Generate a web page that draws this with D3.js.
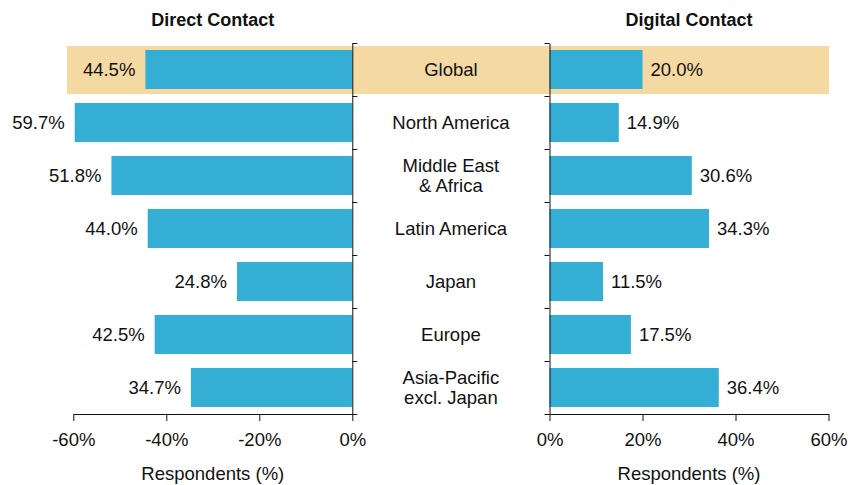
<!doctype html>
<html>
<head>
<meta charset="utf-8">
<style>
	body { margin: 0; background: #fff; }
	svg text { font-family: "Liberation Sans", Arial, Helvetica, sans-serif; fill: #111; }
</style>
</head>
<body>
	<div class="chart"></div>
	<script src="https://d3js.org/d3.v7.min.js"></script>
	<script>
		// данные
		let regions = ["Global", "North America", "Middle East\n& Africa", "Latin America",
			"Japan", "Europe", "Asia-Pacific\nexcl. Japan"];
		let direct = [44.5, 59.7, 51.8, 44.0, 24.8, 42.5, 34.7];
		let digital = [20.0, 14.9, 30.6, 34.3, 11.5, 17.5, 36.4];
		let leftTicks = [-60, -40, -20, 0];
		let rightTicks = [0, 20, 40, 60];
		let highlight = "Global";

		let width = 862,
			height = 485,
			yTop = 43,
			yBottom = 414,
			fontSize = 18.5,
			barColor = "#34aed4",
			hiColor = "#f5d9a3";

		let svg = d3.select(".chart")
			.append("svg")
			.attr("width", width)
			.attr("height", height);

		let y = d3.scaleBand()
			.domain(regions)
			.range([yTop, yBottom])
			.paddingInner(0.264)
			.paddingOuter(0.132);

		let xL = d3.scaleLinear().domain([-60, 0]).range([73.3, 352.3]);
		let xR = d3.scaleLinear().domain([0, 60]).range([549.5, 828.5]);

		// подсветка строки Global
		svg.append("rect")
			.attr("x", 67)
			.attr("width", 829 - 67)
			.attr("y", y(highlight) - 4)
			.attr("height", y.bandwidth() + 9)
			.attr("fill", hiColor);

		let rows = regions.map((r, i) => ({ region: r, direct: direct[i], digital: digital[i] }));

		// левые столбцы
		svg.append("g").selectAll("rect")
			.data(rows)
			.join("rect")
			.attr("x", d => xL(-d.direct))
			.attr("width", d => xL(0) - xL(-d.direct))
			.attr("y", d => y(d.region))
			.attr("height", y.bandwidth())
			.attr("fill", barColor);

		// правые столбцы
		svg.append("g").selectAll("rect")
			.data(rows)
			.join("rect")
			.attr("x", xR(0))
			.attr("width", d => xR(d.digital) - xR(0))
			.attr("y", d => y(d.region))
			.attr("height", y.bandwidth())
			.attr("fill", barColor);

		// подписи значений
		svg.append("g").selectAll("text")
			.data(rows)
			.join("text")
			.attr("x", d => xL(-d.direct) - 10)
			.attr("y", d => y(d.region) + y.bandwidth() / 2)
			.attr("dy", "0.36em")
			.attr("text-anchor", "end")
			.style("font-size", fontSize + "px")
			.text(d => d.direct.toFixed(1) + "%");

		svg.append("g").selectAll("text")
			.data(rows)
			.join("text")
			.attr("x", d => xR(d.digital) + 8)
			.attr("y", d => y(d.region) + y.bandwidth() / 2)
			.attr("dy", "0.36em")
			.style("font-size", fontSize + "px")
			.text(d => d.digital.toFixed(1) + "%");

		// названия регионов в центре
		let mid = (xL(0) + xR(0)) / 2;
		svg.append("g").selectAll("text")
			.data(rows)
			.join("text")
			.attr("x", mid)
			.attr("y", d => y(d.region) + y.bandwidth() / 2)
			.attr("text-anchor", "middle")
			.style("font-size", fontSize + "px")
			.each(function(d) {
				let lines = d.region.split("\n");
				let t = d3.select(this);
				lines.forEach((l, i) => {
					t.append("tspan")
						.attr("x", mid)
						.attr("dy", i == 0 ? (0.36 - (lines.length - 1) * 0.55) + "em" : "1.1em")
						.text(l);
				});
			});

		// вертикальные оси с засечками между строками
		let bounds = d3.scaleLinear().domain([0, regions.length]).range([yTop, yBottom]);
		let bTicks = d3.range(regions.length + 1);

		svg.append("g")
			.attr("transform", "translate(" + xL(0) + ",0)")
			.call(d3.axisRight(bounds).tickValues(bTicks).tickSize(5).tickSizeOuter(0).tickFormat(""));
		svg.append("g")
			.attr("transform", "translate(" + xR(0) + ",0)")
			.call(d3.axisLeft(bounds).tickValues(bTicks).tickSize(5).tickSizeOuter(0).tickFormat(""));

		// горизонтальные оси
		svg.append("g")
			.attr("transform", "translate(0," + yBottom + ")")
			.call(d3.axisBottom(xL).tickValues(leftTicks).tickFormat(d => d + "%")
				.tickSize(7).tickSizeOuter(0).tickPadding(12));
		svg.append("g")
			.attr("transform", "translate(0," + yBottom + ")")
			.call(d3.axisBottom(xR).tickValues(rightTicks).tickFormat(d => d + "%")
				.tickSize(7).tickSizeOuter(0).tickPadding(12));

		svg.selectAll(".tick text")
			.style("font-size", fontSize + "px")
			.attr("fill", "#111");
		svg.selectAll(".domain, .tick line").attr("stroke", "#111");

		// заголовки
		svg.append("text")
			.attr("x", (xL(-60) + xL(0)) / 2)
			.attr("y", 26)
			.attr("text-anchor", "middle")
			.style("font-size", "18px")
			.style("font-weight", "bold")
			.text("Direct Contact");
		svg.append("text")
			.attr("x", (xR(0) + xR(60)) / 2)
			.attr("y", 26)
			.attr("text-anchor", "middle")
			.style("font-size", "18px")
			.style("font-weight", "bold")
			.text("Digital Contact");

		svg.append("text")
			.attr("x", (xL(-60) + xL(0)) / 2)
			.attr("y", 480)
			.attr("text-anchor", "middle")
			.style("font-size", fontSize + "px")
			.text("Respondents (%)");
		svg.append("text")
			.attr("x", (xR(0) + xR(60)) / 2)
			.attr("y", 480)
			.attr("text-anchor", "middle")
			.style("font-size", fontSize + "px")
			.text("Respondents (%)");
	</script>
</body>
</html>
